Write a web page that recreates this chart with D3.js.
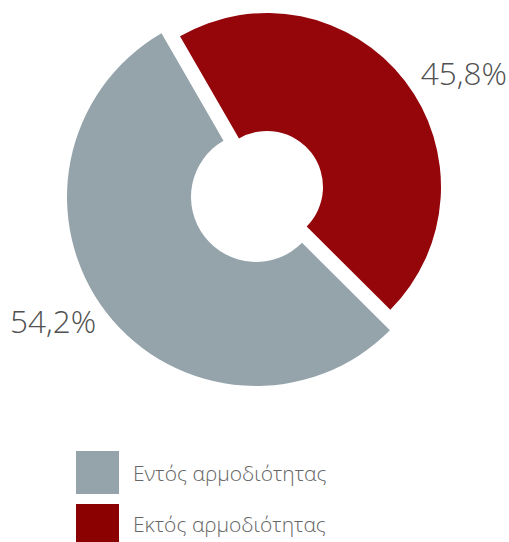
<!DOCTYPE html>
<html>
<head>
<meta charset="utf-8">
<script src="https://cdn.jsdelivr.net/npm/d3@7/dist/d3.min.js"></script>
<style>
  html, body { margin: 0; padding: 0; background: #fff; }
  svg { display: block; }
</style>
</head>
<body>
<svg id="chart" width="509" height="542"></svg>
<script>
// ---- data ----
const categories = ["Εντός αρμοδιότητας", "Εκτός αρμοδιότητας"];
const values = [54.2, 45.8];
const valueLabels = ["54,2%", "45,8%"];
const sliceColors = ["#95a3ab", "#95060b"];
const legendColors = ["#95a3ab", "#8b0000"];

// ---- layout ----
const redStartDeg = -30;           // where the second slice begins (clockwise from 12 o'clock)
// each slice has its own centre and radii (the red one is pulled out and smaller)
const sliceGeom = [
  {cx: 256, cy: 197, r0: 65, r1: 189},
  {cx: 267, cy: 187, r0: 56, r1: 174}
];

const svg = d3.select("#chart");
const total = d3.sum(values);
const startRad = (redStartDeg * Math.PI / 180) - values[0] / total * 2 * Math.PI;

const pie = d3.pie().sort(null).value(d => d)
  .startAngle(startRad).endAngle(startRad + 2 * Math.PI);
const arcs = pie(values);

svg.selectAll("path.slice")
  .data(arcs)
  .join("path")
  .attr("class", "slice")
  .attr("transform", (d, i) => `translate(${sliceGeom[i].cx},${sliceGeom[i].cy})`)
  .attr("fill", (d, i) => sliceColors[i])
  .attr("d", (d, i) => d3.arc()
      .innerRadius(sliceGeom[i].r0)
      .outerRadius(sliceGeom[i].r1)({startAngle: d.startAngle, endAngle: d.endAngle}));

// value labels
const labelFont = "'Open Sans', 'Noto Sans', sans-serif";
const labelPos = [
  {x: 10, y: 333, anchor: "start"},
  {x: 507, y: 85, anchor: "end"}
];
svg.selectAll("text.val")
  .data(valueLabels)
  .join("text")
  .attr("class", "val")
  .attr("x", (d, i) => labelPos[i].x)
  .attr("y", (d, i) => labelPos[i].y)
  .attr("text-anchor", (d, i) => labelPos[i].anchor)
  .attr("font-family", labelFont)
  .attr("font-weight", 300)
  .attr("font-size", 31.5)
  .attr("fill", "#505050")
  .text(d => d);

// legend
const legend = svg.append("g");
const lx = 76, ly0 = 451, lstep = 53, sq = 43;
const items = legend.selectAll("g.item")
  .data(categories)
  .join("g")
  .attr("class", "item")
  .attr("transform", (d, i) => `translate(${lx},${ly0 + i * lstep})`);
items.append("rect")
  .attr("width", sq).attr("height", sq)
  .attr("fill", (d, i) => legendColors[i]);
items.append("text")
  .attr("x", 57)
  .attr("y", (d, i) => 30 - i * 2)
  .attr("font-family", labelFont)
  .attr("font-weight", 300)
  .attr("font-size", 21)
  .attr("fill", "#666")
  .text(d => d);
</script>
</body>
</html>
